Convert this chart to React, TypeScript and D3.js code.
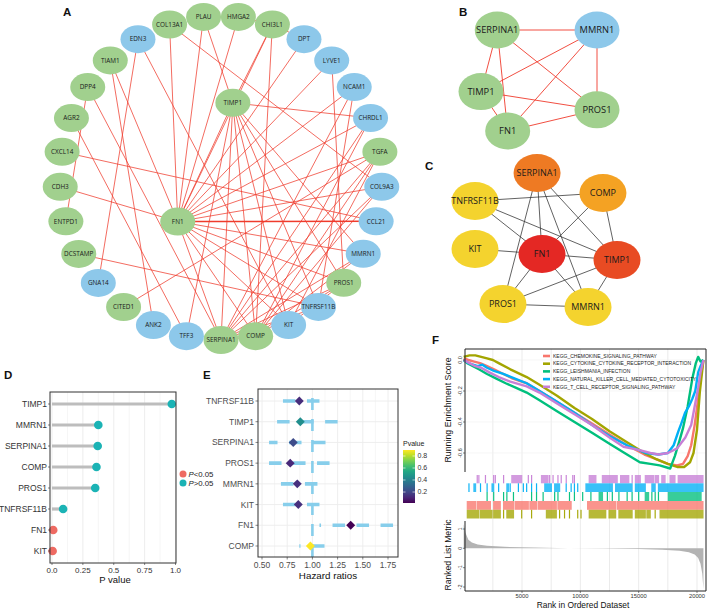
import React from "react";
import * as d3 from "d3";

const FONT = "'Liberation Sans', Arial, Helvetica, sans-serif";
const NFONT = "'Open Sans', 'Liberation Sans', sans-serif";

// ---------------- Panel A : PPI network ----------------
const aOuterGenes = ["HMGA2","CHI3L1","DPT","LYVE1","NCAM1","CHRDL1","TGFA","COL9A3","CCL21","MMRN1","PROS1","TNFRSF11B","KIT","COMP","SERPINA1","TFF3","ANK2","CITED1","GNA14","DCSTAMP","ENTPD1","CDH3","CXCL14","AGR2","DPP4","TIAM1","EDN3","COL13A1","PLAU"];
const aOuterType = ["g","g","b","b","b","b","g","b","b","b","g","b","b","g","g","b","b","g","b","g","g","g","g","g","g","g","b","g","g"];
const aInnerGenes = ["TIMP1","FN1"];
const aInnerAngle = [9, 225];
const aInnerRadius = [0.47, 0.38];
const aEdges: [string, string][] = [
  ["FN1","COL13A1"],["FN1","PLAU"],["FN1","HMGA2"],["FN1","DPT"],["FN1","LYVE1"],["FN1","NCAM1"],
  ["FN1","CHRDL1"],["FN1","TGFA"],["FN1","COL9A3"],["FN1","CCL21"],["FN1","MMRN1"],["FN1","PROS1"],
  ["FN1","TNFRSF11B"],["FN1","KIT"],["FN1","COMP"],["FN1","SERPINA1"],["FN1","TIAM1"],["FN1","CDH3"],
  ["FN1","TIMP1"],["FN1","CHI3L1"],
  ["TIMP1","PLAU"],["TIMP1","CHI3L1"],["TIMP1","CHRDL1"],["TIMP1","SERPINA1"],["TIMP1","COMP"],
  ["TIMP1","KIT"],["TIMP1","TNFRSF11B"],["TIMP1","PROS1"],["TIMP1","MMRN1"],["TIMP1","TFF3"],
  ["EDN3","GNA14"],["EDN3","KIT"],["COL13A1","COL9A3"],["HMGA2","CHI3L1"],["CHI3L1","DPT"],
  ["CHI3L1","COMP"],["TIAM1","ANK2"],["DPP4","SERPINA1"],["DPP4","ENTPD1"],["AGR2","TFF3"],
  ["CXCL14","CCL21"],["DCSTAMP","TNFRSF11B"],["CITED1","TGFA"],["LYVE1","PROS1"],["NCAM1","SERPINA1"],
  ["NCAM1","TNFRSF11B"],["CHRDL1","SERPINA1"],["CHRDL1","COMP"],["TGFA","SERPINA1"],["TGFA","KIT"],
  ["COL9A3","COMP"],["COL9A3","SERPINA1"],["MMRN1","SERPINA1"],["PROS1","SERPINA1"],["PROS1","COMP"],
  ["SERPINA1","COMP"],["KIT","PROS1"],["TNFRSF11B","SERPINA1"],["TGFA","COMP"],["MMRN1","COMP"]
];

// ---------------- Panel B ----------------
const bGenes = ["SERPINA1","MMRN1","TIMP1","FN1","PROS1"];
const bType = ["g","b","g","g","g"];
const bLayoutX = [0.14, 1, 0, 0.23, 1];
const bLayoutY = [0, 0, 0.61, 1, 0.79];

// ---------------- Panel C ----------------
const cGenes = ["SERPINA1","COMP","TNFRSF11B","KIT","FN1","TIMP1","PROS1","MMRN1"];
const cScore = [3, 2, 1, 1, 5, 4, 1, 1];
const cLayoutX = [0.437, 0.901, 0, 0, 0.472, 1, 0.197, 0.796];
const cLayoutY = [0, 0.149, 0.209, 0.567, 0.604, 0.649, 0.978, 1];
const cEdges: [string, string][] = [
  ["TNFRSF11B","COMP"],["TNFRSF11B","FN1"],["TNFRSF11B","TIMP1"],["KIT","FN1"],["SERPINA1","FN1"],
  ["SERPINA1","PROS1"],["SERPINA1","MMRN1"],["SERPINA1","TIMP1"],["COMP","FN1"],["COMP","TIMP1"],
  ["FN1","TIMP1"],["FN1","PROS1"],["FN1","MMRN1"],["PROS1","MMRN1"],["PROS1","TIMP1"],["TIMP1","MMRN1"]
];

// ---------------- Panel D ----------------
const dGenes = ["TIMP1","MMRN1","SERPINA1","COMP","PROS1","TNFRSF11B","FN1","KIT"];
const dPvalues = [0.97, 0.375, 0.37, 0.36, 0.35, 0.09, 0.01, 0.005];
const dTicks = [0, 0.25, 0.5, 0.75, 1.0];
const dTickLabels = ["0.0", "0.25", "0.5", "0.75", "1.0"];

// ---------------- Panel E ----------------
const eGenes = ["TNFRSF11B","TIMP1","SERPINA1","PROS1","MMRN1","KIT","FN1","COMP"];
const eHR = [0.87, 0.88, 0.81, 0.78, 0.85, 0.86, 1.38, 0.98];
const eLow = [0.70, 0.60, 0.57, 0.51, 0.68, 0.69, 1.07, 0.87];
const eHigh = [1.07, 1.25, 1.13, 1.17, 1.05, 1.07, 1.80, 1.12];
const eP = [0.13, 0.45, 0.22, 0.12, 0.14, 0.14, 0.02, 0.9];
const eTicks = [0.5, 0.75, 1.0, 1.25, 1.5, 1.75];
const eTickLabels = ["0.50", "0.75", "1.00", "1.25", "1.50", "1.75"];
const eLegendTicks = [0.2, 0.4, 0.6, 0.8];

// ---------------- Panel F : GSEA ----------------
const fSets = [
  "KEGG_CHEMOKINE_SIGNALING_PATHWAY",
  "KEGG_CYTOKINE_CYTOKINE_RECEPTOR_INTERACTION",
  "KEGG_LEISHMANIA_INFECTION",
  "KEGG_NATURAL_KILLER_CELL_MEDIATED_CYTOTOXICITY",
  "KEGG_T_CELL_RECEPTOR_SIGNALING_PATHWAY"
];
const fColors = ["#f8766d", "#a3a500", "#00bf7d", "#00b0f6", "#c77fd6"];
const esRedRank = [0,400,900,1400,2000,2600,3400,4200,5400,6500,8000,9500,11000,12500,14000,15500,16500,17500,18300,18800,19200,19500,19800,20050,20300,20550];
const esRedVal = [0.01,0.0,-0.01,-0.02,-0.04,-0.06,-0.09,-0.12,-0.15,-0.2,-0.27,-0.34,-0.41,-0.48,-0.55,-0.61,-0.64,-0.67,-0.68,-0.67,-0.62,-0.55,-0.42,-0.28,-0.12,0];
const esOliveRank = [0,500,1000,1500,2000,2500,3000,4000,5400,6500,8000,9500,11000,12500,14000,15500,16500,17500,18300,18900,19400,19700,20000,20250,20550];
const esOliveVal = [0.02,0.03,0.03,0.02,0.01,0.0,-0.02,-0.06,-0.11,-0.16,-0.23,-0.31,-0.38,-0.46,-0.53,-0.6,-0.64,-0.67,-0.69,-0.69,-0.66,-0.6,-0.45,-0.2,0];
const esGreenRank = [0,300,800,1300,2000,2800,3600,4500,5400,6500,8000,9500,11000,12500,14000,15100,16000,16800,17700,18100,18500,18800,19200,19600,19900,20100,20300,20550];
const esGreenVal = [0,-0.02,-0.04,-0.06,-0.09,-0.12,-0.15,-0.18,-0.21,-0.26,-0.33,-0.4,-0.47,-0.54,-0.61,-0.66,-0.67,-0.68,-0.7,-0.62,-0.52,-0.44,-0.3,-0.12,-0.02,0.02,-0.01,0];
const esBlueRank = [0,400,800,1200,1600,2000,2600,3400,4400,5400,6500,8000,9500,11000,12500,14000,15600,16700,17500,18000,18400,18650,18980,19300,19600,19850,20100,20300,20550];
const esBlueVal = [0,-0.02,-0.03,-0.04,-0.03,-0.05,-0.07,-0.09,-0.12,-0.15,-0.2,-0.27,-0.34,-0.42,-0.49,-0.55,-0.6,-0.61,-0.6,-0.55,-0.46,-0.41,-0.34,-0.3,-0.25,-0.2,-0.08,-0.04,0];
const esPurpleRank = [0,500,1000,1500,2200,3000,4000,5400,6500,8000,9500,11000,12500,13700,15000,16000,16700,17500,18300,19000,19500,19800,20100,20300,20550];
const esPurpleVal = [0,-0.02,-0.04,-0.05,-0.08,-0.11,-0.14,-0.17,-0.21,-0.28,-0.35,-0.42,-0.5,-0.56,-0.58,-0.6,-0.61,-0.6,-0.57,-0.5,-0.42,-0.3,-0.18,-0.08,0];

const hitsRed: [number, number][] = [[311,1017],[1159,2290],[2571,3136],[3419,4266],[4408,5537],[5679,6244],[6385,7939],[8080,9210],[10622,13024],[13165,20510]];
const hitsOlive: [number, number][] = [[311,1300],[1441,2430],[2571,3136],[3419,3419],[3701,4266],[4972,4972],[5820,5820],[7091,7939],[8221,8221],[8645,8645],[9069,9069],[9775,9775],[10057,10057],[10764,12176],[12458,13024],[13306,14436],[14719,15566],[15707,15990],[16414,16414],[16837,20510]];
const hitsGreen: [number, number][] = [[2006,2006],[2571,2571],[3419,3419],[3701,3701],[4266,4266],[5820,5820],[6244,6244],[6809,6809],[7797,7797],[8080,8080],[9069,9069],[9492,9492],[10199,10199],[10905,10905],[11611,11894],[12317,12317],[12741,12741],[13306,13306],[14012,14012],[14436,14436],[15001,15001],[15566,15849],[16131,16131],[16414,16414],[16696,16696],[17544,20350]];
const hitsBlue: [number, number][] = [[452,452],[876,1017],[1441,1441],[2006,2006],[2430,2571],[2995,2995],[3701,3842],[3984,3984],[4690,4690],[5113,5113],[5396,5396],[5820,5820],[6244,6244],[6950,7515],[7797,8221],[8786,8786],[9210,9210],[9492,9492],[9775,9775],[10481,12741],[13024,14436],[14719,15566],[16131,16414],[16696,20510]];
const hitsPurple: [number, number][] = [[1160,1160],[1300,1300],[1865,1865],[2570,2570],[2710,2710],[3420,3420],[4125,4970],[5540,5540],[5820,5820],[6670,7230],[7370,7370],[7660,7660],[8080,8080],[8360,8360],[8790,8790],[9350,9350],[9490,9490],[10760,11330],[11890,13160],[13450,14150],[14440,14440],[14720,15140],[15570,16270],[16410,16700],[16980,17260],[17690,18110],[18390,20510]];

const metricRank = [0,150,400,700,1200,2000,3500,6000,9000,12000,15000,17000,18500,19300,19800,20100,20300,20450,20550];
const metricVal = [1.25,0.8,0.45,0.3,0.2,0.13,0.08,0.04,0.01,-0.01,-0.04,-0.07,-0.12,-0.2,-0.32,-0.5,-0.8,-1.3,-2.1];
const fXTicks = [5000, 10000, 15000, 20000];
const fESTicks = [0, -0.2, -0.4, -0.6];
const fESTickLabels = ["0.0", "-0.2", "-0.4", "-0.6"];
const fMTicks = [1, 0, -1, -2];

// ---------------- colours ----------------
const GREEN = "#a1d08e";
const BLUE = "#8dc8ea";
const EDGE_RED = "#ef3b2c";

function PanelLabel({ x, y, t }: { x: number; y: number; t: string }) {
  return <text x={x} y={y} fontSize={11.5} fontWeight="bold" fontFamily={FONT} fill="#111">{t}</text>;
}

function PanelA() {
  const cx = 221, cy = 178, rx = 161, ry = 162;
  const angle = d3.scaleLinear().domain([0, aOuterGenes.length]).range([6.2, 366.2]);
  const pos = new Map<string, { x: number; y: number; t: string }>();
  aOuterGenes.forEach((g, i) => {
    const a = (angle(i) * Math.PI) / 180;
    pos.set(g, { x: cx + rx * Math.sin(a), y: cy - ry * Math.cos(a), t: aOuterType[i] });
  });
  aInnerGenes.forEach((g, i) => {
    const a = (aInnerAngle[i] * Math.PI) / 180;
    pos.set(g, { x: cx + rx * aInnerRadius[i] * Math.sin(a), y: cy - ry * aInnerRadius[i] * Math.cos(a), t: "g" });
  });
  const nodes = [...aOuterGenes, ...aInnerGenes];
  return (
    <g>
      {aEdges.map(([s, t], i) => {
        const p = pos.get(s)!, q = pos.get(t)!;
        const thick = (s === "FN1" && t === "CCL21");
        return <line key={i} x1={p.x} y1={p.y} x2={q.x} y2={q.y} stroke={EDGE_RED} strokeWidth={thick ? 1.5 : 0.75} />;
      })}
      {nodes.map((g) => {
        const p = pos.get(g)!;
        return (
          <g key={g}>
            <ellipse cx={p.x} cy={p.y} rx={17.5} ry={14} fill={p.t === "g" ? GREEN : BLUE} />
            <text x={p.x} y={p.y} dy="0.35em" textAnchor="middle" fontSize={6.4} fontFamily={NFONT} fill="#1a1a1a">{g}</text>
          </g>
        );
      })}
    </g>
  );
}

function PanelB() {
  const x = d3.scaleLinear().domain([0, 1]).range([481, 597]);
  const y = d3.scaleLinear().domain([0, 1]).range([30, 131]);
  const pts = bGenes.map((g, i) => ({ g, x: x(bLayoutX[i]), y: y(bLayoutY[i]), t: bType[i] }));
  const edges: [number, number][] = [];
  for (let i = 0; i < pts.length; i++) for (let j = i + 1; j < pts.length; j++) edges.push([i, j]);
  return (
    <g>
      {edges.map(([i, j], k) => (
        <line key={k} x1={pts[i].x} y1={pts[i].y} x2={pts[j].x} y2={pts[j].y} stroke={EDGE_RED} strokeWidth={0.9} />
      ))}
      {pts.map((p) => (
        <g key={p.g}>
          <ellipse cx={p.x} cy={p.y} rx={22.5} ry={18.5} fill={p.t === "g" ? GREEN : BLUE} />
          <text x={p.x} y={p.y} dy="0.35em" textAnchor="middle" fontSize={9.3} fontFamily={NFONT} fill="#1a1a1a">{p.g}</text>
        </g>
      ))}
    </g>
  );
}

function PanelC() {
  const x = d3.scaleLinear().domain([0, 1]).range([475, 617]);
  const y = d3.scaleLinear().domain([0, 1]).range([173, 307]);
  const col = d3.scaleOrdinal<number, string>().domain([1, 2, 3, 4, 5]).range(["#f4d32e", "#f4a223", "#ee7a23", "#e84b23", "#e42824"]);
  const pos = new Map<string, { x: number; y: number; c: string }>();
  cGenes.forEach((g, i) => pos.set(g, { x: x(cLayoutX[i]), y: y(cLayoutY[i]), c: col(cScore[i]) }));
  return (
    <g>
      {cEdges.map(([s, t], i) => {
        const p = pos.get(s)!, q = pos.get(t)!;
        return <line key={i} x1={p.x} y1={p.y} x2={q.x} y2={q.y} stroke="#3a3a3a" strokeWidth={0.8} />;
      })}
      {cGenes.map((g) => {
        const p = pos.get(g)!;
        return (
          <g key={g}>
            <ellipse cx={p.x} cy={p.y} rx={23.5} ry={19} fill={p.c} />
            <text x={p.x} y={p.y} dy="0.35em" textAnchor="middle" fontSize={9} fontFamily={NFONT} fill="#1a1a1a">{g}</text>
          </g>
        );
      })}
    </g>
  );
}

function PanelD() {
  const L = 50, R = 176, T = 392, B = 563;
  const x = d3.scaleLinear().domain([0, 1]).range([52, 175.5]);
  const y = d3.scalePoint<string>().domain(dGenes).range([404, 551]);
  const minor = d3.range(0, 1.0001, 0.125);
  return (
    <g fontFamily={FONT}>
      <rect x={L} y={T} width={R - L} height={B - T} fill="#fff" />
      {minor.map((v, i) => (
        <line key={i} x1={x(v)} x2={x(v)} y1={T} y2={B} stroke="#ebebeb" strokeWidth={i % 2 === 0 ? 0.9 : 0.5} />
      ))}
      {dGenes.map((g, i) => (
        <g key={g}>
          <line x1={x(0)} x2={x(dPvalues[i])} y1={y(g)!} y2={y(g)!} stroke="#bdbdbd" strokeWidth={3.2} />
          <circle cx={x(dPvalues[i])} cy={y(g)!} r={4.3} fill={dPvalues[i] < 0.05 ? "#ee6a62" : "#1bb3b5"} />
          <text x={L - 3} y={y(g)!} dy="0.35em" textAnchor="end" fontSize={8.5} fill="#333">{g}</text>
          <line x1={L - 2} x2={L} y1={y(g)!} y2={y(g)!} stroke="#333" strokeWidth={0.6} />
        </g>
      ))}
      <rect x={L} y={T} width={R - L} height={B - T} fill="none" stroke="#333" strokeWidth={1} />
      {dTicks.map((v, i) => (
        <g key={i}>
          <line x1={x(v)} x2={x(v)} y1={B} y2={B + 2} stroke="#333" strokeWidth={0.6} />
          <text x={x(v)} y={B + 9.5} textAnchor="middle" fontSize={8} fill="#333">{dTickLabels[i]}</text>
        </g>
      ))}
      <text x={(L + R) / 2 + 2} y={B + 19.5} textAnchor="middle" fontSize={9.5} fill="#111">P value</text>
      <circle cx={183} cy={474} r={3.5} fill="#ee6a62" />
      <text x={188.5} y={476.8} fontSize={7.8} fill="#222"><tspan fontStyle="italic">P</tspan>{"<0.05"}</text>
      <circle cx={183} cy={483} r={3.5} fill="#1bb3b5" />
      <text x={188.5} y={485.8} fontSize={7.8} fill="#222"><tspan fontStyle="italic">P</tspan>{">0.05"}</text>
    </g>
  );
}

function PanelE() {
  const L = 258, R = 398, T = 389, B = 557;
  const x = d3.scaleLinear().domain([0.5, 1.75]).range([262, 388]);
  const y = d3.scalePoint<string>().domain(eGenes).range([401, 546]);
  const pmin = 0.017, pmax = 0.9;
  const color = d3.scaleSequential(d3.interpolateViridis).domain([pmin, pmax]);
  const cbY = d3.scaleLinear().domain([pmin, pmax]).range([503, 450]);
  const minorX = d3.range(0.375, 1.9, 0.125).filter((v) => x(v) > L && x(v) < R);
  const stops = d3.range(0, 1.0001, 0.1);
  const diamond = d3.symbol().type(d3.symbolSquare).size(40)()!;
  return (
    <g fontFamily={FONT}>
      <defs>
        <linearGradient id="viridisBar" x1="0" y1="1" x2="0" y2="0">
          {stops.map((s, i) => (
            <stop key={i} offset={s} stopColor={d3.interpolateViridis(s)} />
          ))}
        </linearGradient>
      </defs>
      <rect x={L} y={T} width={R - L} height={B - T} fill="#fff" />
      {minorX.map((v, i) => (
        <line key={"m" + i} x1={x(v)} x2={x(v)} y1={T} y2={B} stroke="#ececec" strokeWidth={Math.abs((v * 4) - Math.round(v * 4)) < 1e-6 ? 0.9 : 0.5} />
      ))}
      {eGenes.map((g) => (
        <line key={"h" + g} x1={L} x2={R} y1={y(g)!} y2={y(g)!} stroke="#ececec" strokeWidth={0.9} />
      ))}
      <line x1={x(1)} x2={x(1)} y1={B} y2={T} stroke="#87ceeb" strokeWidth={2.6} strokeDasharray="12,9" />
      {eGenes.map((g, i) => (
        <g key={g}>
          <line x1={x(eHigh[i])} x2={x(eLow[i])} y1={y(g)!} y2={y(g)!} stroke="#87ceeb" strokeWidth={3.6} strokeDasharray="12.5,11.5" />
          <path d={diamond} transform={`translate(${x(eHR[i])},${y(g)!}) rotate(45)`} fill={color(eP[i])} />
          <text x={L - 4} y={y(g)!} dy="0.35em" textAnchor="end" fontSize={8.5} fill="#4d4d4d">{g}</text>
          <line x1={L - 2.5} x2={L} y1={y(g)!} y2={y(g)!} stroke="#333" strokeWidth={0.6} />
        </g>
      ))}
      <rect x={L} y={T} width={R - L} height={B - T} fill="none" stroke="#333" strokeWidth={1} />
      {eTicks.map((v, i) => (
        <g key={i}>
          <line x1={x(v)} x2={x(v)} y1={B} y2={B + 2.5} stroke="#333" strokeWidth={0.6} />
          <text x={x(v)} y={B + 11} textAnchor="middle" fontSize={8.5} fill="#4d4d4d">{eTickLabels[i]}</text>
        </g>
      ))}
      <text x={(L + R) / 2} y={B + 22} textAnchor="middle" fontSize={9.8} fill="#111">Hazard ratios</text>
      <text x={403} y={446} fontSize={7} fill="#222">Pvalue</text>
      <rect x={403} y={450} width={12} height={53} fill="url(#viridisBar)" />
      {eLegendTicks.map((v, i) => (
        <g key={i}>
          <line x1={403} x2={405.5} y1={cbY(v)} y2={cbY(v)} stroke="#fff" strokeWidth={0.6} />
          <line x1={412.5} x2={415} y1={cbY(v)} y2={cbY(v)} stroke="#fff" strokeWidth={0.6} />
          <text x={417.5} y={cbY(v)} dy="0.35em" fontSize={7} fill="#333">{v.toFixed(1)}</text>
        </g>
      ))}
    </g>
  );
}

function PanelF() {
  const L = 465, R = 706, T = 349, ESB = 472, MT = 521, B = 591;
  const x = d3.scaleLinear().domain([0, 20000]).range([463.7, 697]);
  const yES = d3.scaleLinear().domain([0, -0.6]).range([360, 453]);
  const yM = d3.scaleLinear().domain([1, -2]).range([529, 587]);
  const series: [number, number][][] = [
    esRedRank.map((r, i) => [r, esRedVal[i]]),
    esOliveRank.map((r, i) => [r, esOliveVal[i]]),
    esGreenRank.map((r, i) => [r, esGreenVal[i]]),
    esBlueRank.map((r, i) => [r, esBlueVal[i]]),
    esPurpleRank.map((r, i) => [r, esPurpleVal[i]]),
  ];
  const line = d3.line<[number, number]>().x((d) => x(d[0])).y((d) => yES(d[1]));
  const area = d3.area<[number, number]>().x((d) => x(d[0])).y0(yM(0)).y1((d) => Math.min(B, yM(d[1])));
  const metric: [number, number][] = metricRank.map((r, i) => [r, metricVal[i]]);
  const hitRows: { hits: [number, number][]; c: string; y0: number; y1: number }[] = [
    { hits: hitsPurple, c: fColors[4], y0: 475, y1: 483.3 },
    { hits: hitsBlue, c: fColors[3], y0: 483.3, y1: 492 },
    { hits: hitsGreen, c: fColors[2], y0: 492, y1: 501 },
    { hits: hitsRed, c: fColors[0], y0: 501, y1: 509.8 },
    { hits: hitsOlive, c: fColors[1], y0: 509.8, y1: 518.5 },
  ];
  const grid = d3.range(2500, 20001, 2500);
  return (
    <g fontFamily={FONT}>
      {grid.map((g, i) => (
        <line key={i} x1={x(g)} x2={x(g)} y1={T} y2={B} stroke="#e6e6e6" strokeWidth={0.8} />
      ))}
      {fESTicks.map((v, i) => (
        <line key={"h" + i} x1={L} x2={R} y1={yES(v)} y2={yES(v)} stroke="#f0f0f0" strokeWidth={0.6} />
      ))}
      {hitRows.map((row, k) => (
        <g key={k}>
          {row.hits.map(([s, e], i) => (
            <rect key={i} x={x(s) - 0.6} y={row.y0} width={Math.max(1.2, x(e) - x(s) + 1.2)} height={row.y1 - row.y0} fill={row.c} opacity={e > s ? 0.78 : 0.95} />
          ))}
        </g>
      ))}
      <path d={area(metric)!} fill="#b3b3b3" />
      {series.map((s, i) => (
        <path key={i} d={line(s)!} fill="none" stroke={fColors[i]} strokeWidth={2.4} strokeLinejoin="round" />
      ))}
      {fSets.map((name, i) => (
        <g key={name}>
          <line x1={543} x2={550} y1={356 + i * 7.7} y2={356 + i * 7.7} stroke={fColors[i]} strokeWidth={2.6} />
          <text x={553} y={356 + i * 7.7} dy="0.35em" fontSize={5} fill="#222">{name}</text>
        </g>
      ))}
      {/* borders */}
      <line x1={L} x2={R} y1={T} y2={T} stroke="#222" strokeWidth={1} />
      <line x1={R} x2={R} y1={T} y2={B} stroke="#222" strokeWidth={1} />
      <line x1={L} x2={L} y1={T} y2={ESB} stroke="#222" strokeWidth={1} />
      <line x1={L} x2={L} y1={MT} y2={B} stroke="#222" strokeWidth={1} />
      <line x1={L} x2={R} y1={B} y2={B} stroke="#222" strokeWidth={1} />
      {fESTicks.map((v, i) => (
        <g key={"t" + i}>
          <line x1={L - 2} x2={L} y1={yES(v)} y2={yES(v)} stroke="#333" strokeWidth={0.6} />
          <text transform={`translate(${L - 3.5},${yES(v)}) rotate(-90)`} textAnchor="middle" fontSize={5.5} fill="#333">{fESTickLabels[i]}</text>
        </g>
      ))}
      {fMTicks.map((v, i) => (
        <g key={"m" + i}>
          <line x1={L - 2} x2={L} y1={yM(v)} y2={yM(v)} stroke="#333" strokeWidth={0.6} />
          <text transform={`translate(${L - 3.5},${yM(v)}) rotate(-90)`} textAnchor="middle" fontSize={5.5} fill="#333">{String(v)}</text>
        </g>
      ))}
      {fXTicks.map((v, i) => (
        <g key={"x" + i}>
          <line x1={x(v)} x2={x(v)} y1={B} y2={B + 2} stroke="#333" strokeWidth={0.6} />
          <text x={x(v)} y={B + 7.2} textAnchor="middle" fontSize={5.8} fill="#333">{String(v)}</text>
        </g>
      ))}
      <text transform={`translate(451,410) rotate(-90)`} textAnchor="middle" fontSize={8.8} fill="#111">Running Enrichment Score</text>
      <text transform={`translate(451,555) rotate(-90)`} textAnchor="middle" fontSize={8.6} fill="#111">Ranked List Metric</text>
      <text x={583} y={607.5} textAnchor="middle" fontSize={8.4} fill="#111">Rank in Ordered Dataset</text>
    </g>
  );
}

export default function App() {
  return (
    <svg width={708} height={608} style={{ position: "absolute", left: 0, top: 0, display: "block" }}>
      <rect width={708} height={608} fill="#fff" />
      <PanelA />
      <PanelB />
      <PanelC />
      <PanelD />
      <PanelE />
      <PanelF />
      <PanelLabel x={63} y={16} t="A" />
      <PanelLabel x={459} y={16} t="B" />
      <PanelLabel x={425} y={170} t="C" />
      <PanelLabel x={4} y={379} t="D" />
      <PanelLabel x={203} y={379} t="E" />
      <PanelLabel x={432} y={344} t="F" />
    </svg>
  );
}
